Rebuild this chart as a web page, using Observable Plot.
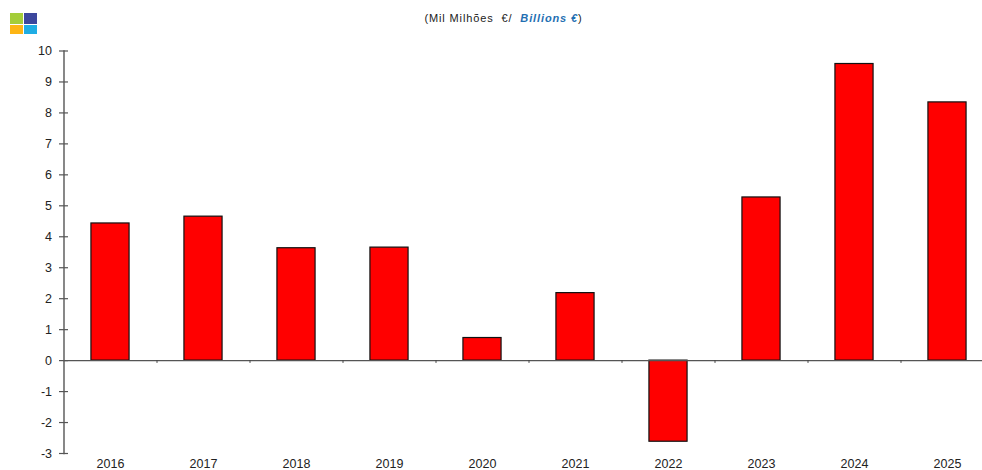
<!DOCTYPE html>
<html>
<head>
<meta charset="utf-8">
<script src="https://cdn.jsdelivr.net/npm/d3@7"></script>
<script src="https://cdn.jsdelivr.net/npm/@observablehq/plot@0.6"></script>
<style>
html,body{margin:0;padding:0;background:#fff;overflow:hidden}
#header{position:relative;height:40px;width:982px;font-family:"Liberation Sans",Arial,sans-serif}
#title{position:absolute;left:0;width:1007px;top:12px;text-align:center;font-size:11px;line-height:12px;color:#222;letter-spacing:.88px;white-space:pre}
#title b{color:#1f6fb2;font-style:italic}
.sq{position:absolute}
svg{display:block}
</style>
</head>
<body>
<div id="header">
  <div class="sq" style="left:10px;top:13px;width:13px;height:11px;background:#a4cd39"></div>
  <div class="sq" style="left:24px;top:13px;width:13px;height:11px;background:#3c479d"></div>
  <div class="sq" style="left:10px;top:25px;width:13px;height:9px;background:#fdb515"></div>
  <div class="sq" style="left:24px;top:25px;width:13px;height:9px;background:#1fade4"></div>
  <div id="title">(Mil Milhões  €/  <b>Billions €</b>)</div>
</div>
<script>
const years = ["2016","2017","2018","2019","2020","2021","2022","2023","2024","2025"];
const values = [4.43,4.65,3.63,3.65,0.73,2.18,-2.62,5.27,9.58,8.34];
const yTicks = [-3,-2,-1,0,1,2,3,4,5,6,7,8,9,10];
const table = years.map((year,i)=>({year,value:values[i]}));

const chart = Plot.plot({
  width: 982,
  height: 430,
  marginTop: 10.5,
  marginBottom: 17,
  marginLeft: 63.5,
  marginRight: -11.5,
  style: {fontFamily: '"Liberation Sans",Arial,sans-serif', fontSize: "12px", color: "#222", background: "#fff"},
  x: {domain: years, paddingInner: 0.59, paddingOuter: 0.295, align: 0.5, round: false, label: null},
  y: {domain: [-3,10], label: null},
  marks: [
    Plot.barY(table, {x:"year", y:"value", fill:"#ff0000", stroke:"#111", strokeWidth:1.2}),
    Plot.frame({anchor:"left", stroke:"#555", strokeWidth:1.4}),
    Plot.ruleY([0], {stroke:"#555", strokeWidth:1.4}),
    Plot.ruleX(years, {x:d=>d, y1:0, y2:-0.09, dx:46.5, stroke:"#444", strokeWidth:1}),
    Plot.axisY({ticks:yTicks, tickSize:9, dx:4.5, stroke:"#555", strokeWidth:1.2, tickFormat:()=>"", label:null}),
    Plot.axisY({ticks:yTicks, tickSize:0, tickPadding:12, fontSize:12.5, fill:"#222", tickFormat:d=>String(d), label:null}),
    Plot.axisX({tickSize:0, tickPadding:6, fontSize:12.5, fill:"#222", letterSpacing:0.5, label:null})
  ]
});
document.body.appendChild(chart);
</script>
</body>
</html>
